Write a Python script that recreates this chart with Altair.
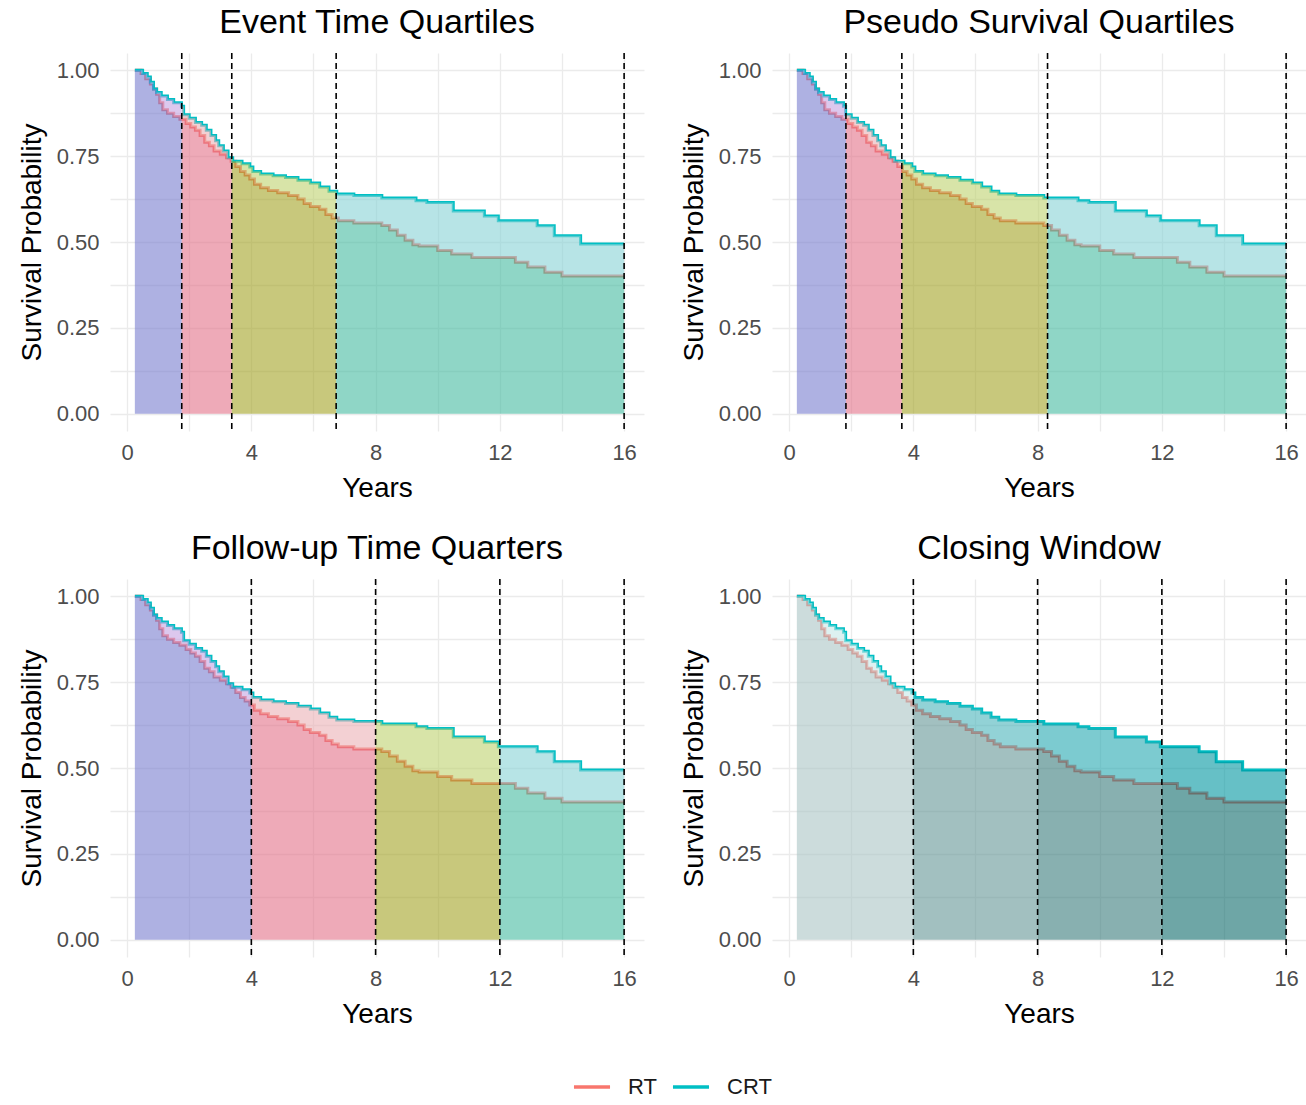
import altair as alt
import pandas as pd

# ---------------- data ----------------
RT_T = [0.25, 0.45, 0.6, 0.75, 0.85, 0.95, 1.05, 1.15, 1.3, 1.5, 1.7, 1.9, 2.05, 2.2, 2.35, 2.5,
        2.65, 2.8, 3.0, 3.2, 3.35, 3.5, 3.65, 3.8, 3.95, 4.1, 4.3, 4.55, 4.85, 5.2, 5.5, 5.7, 5.9,
        6.2, 6.4, 6.6, 6.8, 7.3, 8.2, 8.45, 8.7, 8.95, 9.2, 9.4, 10.0, 10.45, 11.1, 12.5, 12.9,
        13.45, 14.0]
RT_S = [1.0, 0.99, 0.975, 0.96, 0.945, 0.93, 0.905, 0.885, 0.875, 0.865, 0.857, 0.845, 0.835,
        0.825, 0.81, 0.79, 0.78, 0.765, 0.755, 0.745, 0.735, 0.72, 0.705, 0.695, 0.683, 0.668,
        0.658, 0.65, 0.643, 0.635, 0.625, 0.612, 0.603, 0.595, 0.58, 0.57, 0.562, 0.555, 0.548,
        0.535, 0.52, 0.505, 0.492, 0.488, 0.475, 0.465, 0.455, 0.441, 0.427, 0.412, 0.401]
CRT_T = [0.25, 0.5, 0.65, 0.75, 0.85, 0.95, 1.1, 1.3, 1.5, 1.75, 1.82, 2.0, 2.2, 2.4, 2.55, 2.7,
         2.85, 2.95, 3.1, 3.25, 3.4, 3.7, 3.95, 4.05, 4.3, 4.7, 5.1, 5.5, 5.9, 6.2, 6.5, 6.75,
         7.3, 8.2, 9.3, 9.65, 10.5, 11.5, 11.95, 13.2, 13.75, 14.6]
CRT_S = [1.0, 0.99, 0.98, 0.965, 0.945, 0.935, 0.925, 0.915, 0.905, 0.895, 0.87, 0.86, 0.848,
         0.84, 0.825, 0.81, 0.795, 0.78, 0.765, 0.745, 0.735, 0.728, 0.718, 0.705, 0.698, 0.693,
         0.688, 0.68, 0.672, 0.66, 0.648, 0.64, 0.635, 0.628, 0.62, 0.615, 0.59, 0.576, 0.562,
         0.547, 0.518, 0.494]
END_T = 16.0

GROUPS = ["RT", "CRT"]
GROUP_COLORS = ["#F8766D", "#00BFC4"]

PANEL_TITLES = ["Event Time Quartiles", "Pseudo Survival Quartiles",
                "Follow-up Time Quarters", "Closing Window"]
PANEL_CUTS = [[1.76, 3.37, 6.73, 16.0],
              [1.83, 3.63, 8.32, 16.0],
              [4.0, 8.0, 12.0, 16.0],
              [4.0, 8.0, 12.0, 16.0]]

QUART_LOWER = ["#787dcf", "#e37189", "#a3a325", "#44bba0"]
QUART_BETWEEN = ["#c5a3e3", "#ebb1b6", "#bed26e", "#87d2d5"]
CLOSE_LOWER = ["#aac5c5", "#649696", "#397b7b", "#0d6b6b"]
CLOSE_BETWEEN = ["#c6e8e8", "#49b4bb", "#25a8b1", "#0096a0"]
PANEL_LOWER = [QUART_LOWER, QUART_LOWER, QUART_LOWER, CLOSE_LOWER]
PANEL_BETWEEN = [QUART_BETWEEN, QUART_BETWEEN, QUART_BETWEEN, CLOSE_BETWEEN]

X_TICKS = [0, 2, 4, 6, 8, 10, 12, 14, 16]
Y_TICKS = [0, 0.125, 0.25, 0.375, 0.5, 0.625, 0.75, 0.875, 1.0]


def step(T, S, t):
    v = S[0]
    for ti, si in zip(T, S):
        if ti <= t + 1e-9:
            v = si
    return v


GRID = sorted(set(RT_T + CRT_T + [END_T]))

line_rows = []
for g, T, S in (("RT", RT_T, RT_S), ("CRT", CRT_T, CRT_S)):
    for t, s in zip(T, S):
        line_rows.append({"t": t, "s": s, "group": g})
    line_rows.append({"t": END_T, "s": S[-1], "group": g})
lines_df = pd.DataFrame(line_rows)

X_SCALE = alt.Scale(domain=[-0.55, 16.64], nice=False, zero=False)
Y_SCALE = alt.Scale(domain=[-0.05, 1.05], nice=False, zero=False)
X_AXIS = alt.Axis(values=X_TICKS, labelExpr="datum.value % 4 == 0 ? datum.label : ''",
                  title="Years", labelPadding=11, titlePadding=11)
Y_AXIS = alt.Axis(values=Y_TICKS, title="Survival Probability",
                  labelExpr="(datum.value * 1000) % 250 == 0 ? format(datum.value, '.2f') : ''",
                  labelPadding=11, titlePadding=10)


def panel(idx):
    cuts = PANEL_CUTS[idx]
    starts = [RT_T[0]] + cuts[:-1]
    rows = []
    for i, (a, b) in enumerate(zip(starts, cuts)):
        pts = [a] + [g for g in GRID if a + 1e-9 < g < b - 1e-9]
        last = None
        for t in pts:
            last = {"t": t, "rt": step(RT_T, RT_S, t), "crt": step(CRT_T, CRT_S, t),
                    "zero": 0.0, "seg": i,
                    "low": PANEL_LOWER[idx][i], "bet": PANEL_BETWEEN[idx][i]}
            rows.append(last)
        end = dict(last)
        end["t"] = b
        rows.append(end)
    adf = pd.DataFrame(rows)
    vdf = pd.DataFrame({"t": cuts})

    x = alt.X("t:Q", scale=X_SCALE, axis=X_AXIS)

    lines = alt.Chart(lines_df).mark_line(interpolate="step-after", strokeWidth=3).encode(
        x=x,
        y=alt.Y("s:Q", scale=Y_SCALE, axis=Y_AXIS),
        color=alt.Color("group:N", scale=alt.Scale(domain=GROUPS, range=GROUP_COLORS),
                        legend=alt.Legend(title=None, orient="none", direction="horizontal",
                                          legendX=462, legendY=1014, symbolType="stroke",
                                          symbolSize=1300, symbolStrokeWidth=3.5,
                                          labelFontSize=22, labelFont="Liberation Sans",
                                          labelColor="#1a1a1a", columnPadding=8,
                                          labelOffset=16)),
    )
    lower = alt.Chart(adf).mark_area(interpolate="step-after", opacity=0.6).encode(
        x=x,
        y=alt.Y("zero:Q", scale=Y_SCALE, axis=Y_AXIS),
        y2="rt:Q",
        fill=alt.Fill("low:N", scale=None),
        detail="seg:N",
    )
    between = alt.Chart(adf).mark_area(interpolate="step-after", opacity=0.6).encode(
        x=x,
        y=alt.Y("rt:Q", scale=Y_SCALE, axis=Y_AXIS),
        y2="crt:Q",
        fill=alt.Fill("bet:N", scale=None),
        detail="seg:N",
    )
    rules = alt.Chart(vdf).mark_rule(color="black", strokeDash=[6, 4], strokeWidth=1.6).encode(
        x=x
    )
    return alt.layer(lines, lower, between, rules).properties(
        width=534, height=378,
        title=alt.TitleParams(PANEL_TITLES[idx], fontSize=34, font="Liberation Sans",
                              fontWeight="normal", color="#000000", anchor="middle", offset=12),
    )


chart = alt.concat(*[panel(i) for i in range(4)], columns=2,
                   spacing={"row": 30, "column": 36}).properties(
    padding={"left": 18, "top": 6, "right": 0, "bottom": 10}
).configure_axis(
    labelFont="Liberation Sans", labelFontSize=22, labelColor="#4d4d4d",
    titleFont="Liberation Sans", titleFontSize=28, titleFontWeight="normal", titleColor="#000000",
    grid=True, gridColor="#ebebeb", gridWidth=1.3, domain=False, ticks=False,
).configure_view(stroke=None).configure_legend(
    labelFont="Liberation Sans"
)

chart.save("out.html", embed_options={"renderer": "svg", "actions": False})
